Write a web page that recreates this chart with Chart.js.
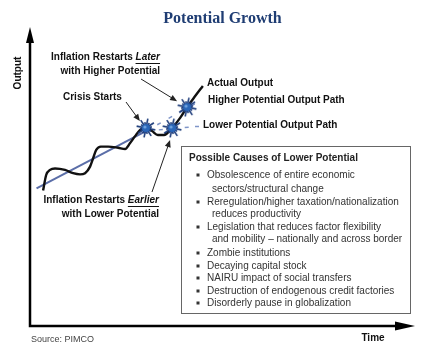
<!DOCTYPE html>
<html><head><meta charset="utf-8">
<script src="https://cdn.jsdelivr.net/npm/chart.js@4/dist/chart.umd.min.js"></script>
<style>html,body{margin:0;padding:0;background:#fff}</style>
</head><body>
<canvas id="c" width="432" height="348"></canvas>
<script>
// ---- data (arbitrary units: time 0-100, output 0-100) ----
const timeX = [3.4, 4.2, 5.2, 6.5, 9.1, 11.2, 13.0, 14.3, 15.6, 16.4, 17.2, 18.4, 20.3, 22.9, 24.7, 26.0, 27.3, 28.6, 30.1, 31.7, 33.2, 34.8, 36.9, 39.0, 40.8, 42.9, 44.9];
const actualOutput = [45.3, 50.5, 52.2, 52.7, 52.2, 51.1, 50.7, 51.1, 53.3, 56.1, 58.9, 60.0, 60.0, 59.6, 59.2, 61.2, 63.5, 65.6, 66.2, 65.2, 63.9, 63.9, 66.2, 69.6, 73.2, 76.9, 80.3];
const potentialX = [1.7, 30.1];
const potentialY = [46.0, 65.2];
const higherPotX = [30.1, 44.2];
const higherPotY = [65.2, 75.3];
const lowerPotX = [30.1, 42.9];
const lowerPotY = [65.2, 66.7];
const eventX = [30.1, 36.9, 40.8];   // crisis starts, inflation earlier, inflation later
const eventY = [66.2, 66.2, 73.2];
const boxTitle = 'Possible Causes of Lower Potential';
const causes = [
  ['Obsolescence of entire economic', 'sectors/structural change'],
  ['Reregulation/higher taxation/nationalization', 'reduces productivity'],
  ['Legislation that reduces factor flexibility', 'and mobility \u2013 nationally and across border'],
  ['Zombie institutions'],
  ['Decaying capital stock'],
  ['NAIRU impact of social transfers'],
  ['Destruction of endogenous credit factories'],
  ['Disorderly pause in globalization']
];

const zip = (xs, ys) => xs.map((x, i) => ({x, y: ys[i]}));

// starburst point image
function burst() {
  const s = 20, c = document.createElement('canvas');
  c.width = s; c.height = s;
  const g = c.getContext('2d');
  const cx = s / 2, cy = s / 2;
  g.strokeStyle = '#1d3c7a'; g.lineWidth = 1.6;
  for (let i = 0; i < 16; i++) {
    const a = i * Math.PI / 8 + 0.2, r = i % 2 ? 6 : 9.5;
    g.beginPath(); g.moveTo(cx, cy); g.lineTo(cx + r * Math.cos(a), cy + r * Math.sin(a)); g.stroke();
  }
  g.fillStyle = '#2a66b8';
  g.beginPath(); g.arc(cx, cy, 4, 0, Math.PI * 2); g.fill();
  g.fillStyle = '#6fa3e0';
  g.beginPath(); g.arc(cx - 1, cy - 1, 1.6, 0, Math.PI * 2); g.fill();
  return c;
}

const SANS = '"Liberation Sans", Arial, sans-serif';

function arrow(ctx, x1, y1, x2, y2, len, w) {
  const a = Math.atan2(y2 - y1, x2 - x1);
  ctx.beginPath(); ctx.moveTo(x1, y1); ctx.lineTo(x2 - len * 0.6 * Math.cos(a), y2 - len * 0.6 * Math.sin(a)); ctx.stroke();
  ctx.beginPath();
  ctx.moveTo(x2, y2);
  ctx.lineTo(x2 - len * Math.cos(a) + w * Math.sin(a), y2 - len * Math.sin(a) - w * Math.cos(a));
  ctx.lineTo(x2 - len * Math.cos(a) - w * Math.sin(a), y2 - len * Math.sin(a) + w * Math.cos(a));
  ctx.closePath(); ctx.fill();
}

const decor = {
  id: 'decor',
  afterDatasetsDraw(chart) {
    const ctx = chart.ctx, a = chart.chartArea;
    const xs = chart.scales.x, ys = chart.scales.y;
    const px = v => xs.getPixelForValue(v), py = v => ys.getPixelForValue(v);
    ctx.save();
    // axes
    ctx.strokeStyle = '#000'; ctx.fillStyle = '#000'; ctx.lineWidth = 2.5;
    ctx.beginPath(); ctx.moveTo(a.left, a.top + 12); ctx.lineTo(a.left, a.bottom); ctx.lineTo(a.right - 14, a.bottom); ctx.stroke();
    ctx.beginPath(); ctx.moveTo(a.left, a.top); ctx.lineTo(a.left - 4, a.top + 16); ctx.lineTo(a.left + 4, a.top + 16); ctx.closePath(); ctx.fill();
    ctx.beginPath(); ctx.moveTo(a.right, a.bottom); ctx.lineTo(a.right - 20, a.bottom - 4.5); ctx.lineTo(a.right - 20, a.bottom + 4.5); ctx.closePath(); ctx.fill();

    // axis labels
    ctx.font = 'bold 10px ' + SANS; ctx.fillStyle = '#111'; ctx.textBaseline = 'middle';
    ctx.save(); ctx.translate(a.left - 12, a.top + 46); ctx.rotate(-Math.PI / 2);
    ctx.textAlign = 'center'; ctx.fillText('Output', 0, 0); ctx.restore();
    ctx.textAlign = 'center'; ctx.fillText('Time', 373, 338);
    ctx.textAlign = 'left'; ctx.font = '9px ' + SANS; ctx.fillStyle = '#444';
    ctx.fillText('Source: PIMCO', 31, 340);

    // path labels
    ctx.font = 'bold 10px ' + SANS; ctx.fillStyle = '#111';
    ctx.fillText('Actual Output', 207, 83);
    ctx.fillText('Higher Potential Output Path', 208, 100);
    ctx.fillText('Lower Potential Output Path', 203, 125);
    ctx.fillText('Crisis Starts', 63, 97);
    ctx.strokeStyle = '#7f95c8'; ctx.lineWidth = 1.5;
    ctx.beginPath(); ctx.moveTo(195, 126.5); ctx.lineTo(199, 126.5); ctx.stroke();

    function twoPart(pre, em, right, y) {
      ctx.font = 'bold 10px ' + SANS;
      const w1 = ctx.measureText(pre).width;
      ctx.font = 'italic bold 10px ' + SANS;
      const w2 = ctx.measureText(em).width;
      const x0 = right - w1 - w2;
      ctx.font = 'bold 10px ' + SANS; ctx.fillText(pre, x0, y);
      ctx.font = 'italic bold 10px ' + SANS; ctx.fillText(em, x0 + w1, y);
      ctx.strokeStyle = '#111'; ctx.lineWidth = 1;
      ctx.beginPath(); ctx.moveTo(x0 + w1, y + 6.5); ctx.lineTo(right, y + 6.5); ctx.stroke();
    }
    ctx.textAlign = 'left';
    twoPart('Inflation Restarts ', 'Later', 160, 57);
    ctx.font = 'bold 10px ' + SANS; ctx.textAlign = 'right';
    ctx.fillText('with Higher Potential', 160, 71);
    ctx.textAlign = 'left';
    twoPart('Inflation Restarts ', 'Earlier', 159, 200);
    ctx.font = 'bold 10px ' + SANS; ctx.textAlign = 'right';
    ctx.fillText('with Lower Potential', 159, 214);

    // arrows to events
    ctx.strokeStyle = '#222'; ctx.fillStyle = '#222'; ctx.lineWidth = 1;
    arrow(ctx, 141, 79, px(eventX[2]) - 10, py(eventY[2]) - 6, 7, 3);
    arrow(ctx, 126, 102, px(eventX[0]) - 6, py(eventY[0]) - 7, 7, 3);
    arrow(ctx, 152, 192, px(eventX[1]) - 2, py(eventY[1]) + 12, 7, 3);

    // causes box
    ctx.fillStyle = '#fff'; ctx.fillRect(181, 146, 230, 168);
    ctx.strokeStyle = '#666'; ctx.lineWidth = 1; ctx.strokeRect(181.5, 146.5, 229, 167);
    ctx.textAlign = 'left'; ctx.fillStyle = '#222'; ctx.font = 'bold 10px ' + SANS;
    ctx.fillText(boxTitle, 189, 158);
    ctx.font = '10px ' + SANS; ctx.fillStyle = '#333';
    const rowsY = [175, 189, 202, 214, 227, 239, 253, 266, 278, 291, 303];
    let k = 0;
    causes.forEach(item => {
      item.forEach((line, j) => {
        const yy = rowsY[k++];
        if (j === 0) { ctx.fillRect(196.5, yy - 1.5, 3, 3); ctx.fillText(line, 207, yy); }
        else ctx.fillText(line, 212, yy);
      });
    });
    ctx.restore();
  }
};

new Chart(document.getElementById('c'), {
  type: 'line',
  data: {
    datasets: [
      { label: 'Potential', data: zip(potentialX, potentialY), borderColor: '#5b6ea8', borderWidth: 2, pointRadius: 0, order: 3 },
      { label: 'Higher Potential Output Path', data: zip(higherPotX, higherPotY), borderColor: '#7f95c8', borderWidth: 1.5, borderDash: [4, 9], pointRadius: 0, order: 3 },
      { label: 'Lower Potential Output Path', data: zip(lowerPotX, lowerPotY), borderColor: '#7f95c8', borderWidth: 1.5, borderDash: [4, 9], pointRadius: 0, order: 3 },
      { label: 'Actual Output', data: zip(timeX, actualOutput), borderColor: '#111', borderWidth: 2.4, pointRadius: 0, cubicInterpolationMode: 'monotone', order: 2 },
      { label: 'Events', data: zip(eventX, eventY), showLine: false, pointStyle: burst(), pointRadius: 10, order: 1 }
    ]
  },
  options: {
    responsive: false, devicePixelRatio: 1, animation: false,
    layout: { padding: { left: 30, right: 17, top: 0, bottom: 22 } },
    scales: {
      x: { type: 'linear', min: 0, max: 100, display: false },
      y: { type: 'linear', min: 0, max: 100, display: false }
    },
    plugins: {
      legend: { display: false },
      tooltip: { enabled: false },
      title: { display: true, text: 'Potential Growth', color: '#1f3d73',
        font: { family: '"Liberation Serif", "DejaVu Serif", serif', size: 16, weight: 'bold', lineHeight: 1 },
        padding: { top: 11, bottom: 0 } }
    }
  },
  plugins: [decor]
});
</script>
</body></html>
